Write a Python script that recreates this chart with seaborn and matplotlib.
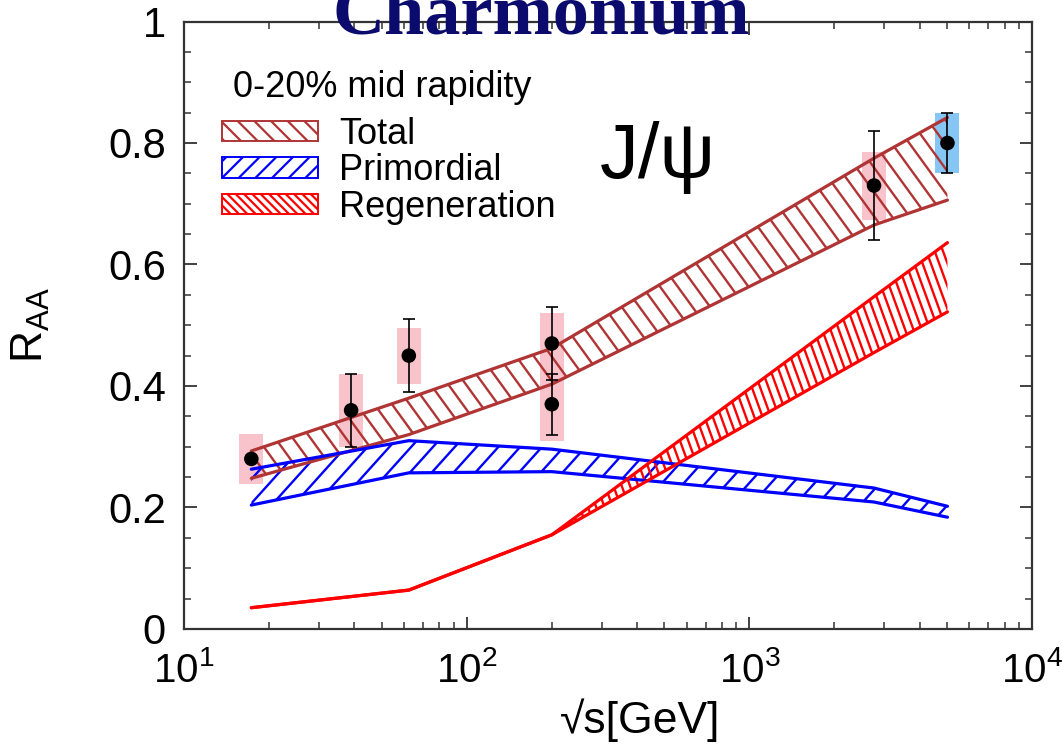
import numpy as np
import pandas as pd
import matplotlib
matplotlib.use("Agg")
import matplotlib.pyplot as plt
import seaborn as sns
from matplotlib.collections import LineCollection
from matplotlib.patches import Patch
from matplotlib.ticker import MultipleLocator, LogLocator, NullFormatter, FuncFormatter

# ---- model bands (0-20% central, mid rapidity) ----
band_sqrt_s = [17.3, 62.4, 200, 2760, 5020]
total_hi = [0.293, 0.380, 0.462, 0.775, 0.842]
total_lo = [0.248, 0.320, 0.403, 0.665, 0.706]
prim_hi = [0.263, 0.310, 0.296, 0.232, 0.202]
prim_lo = [0.204, 0.257, 0.259, 0.209, 0.184]
regen_hi = [0.035, 0.064, 0.155, 0.547, 0.636]
regen_lo = [0.035, 0.064, 0.155, 0.455, 0.522]

# ---- measured J/psi R_AA ----
data_sqrt_s = [17.3, 39, 62.4, 200, 200, 2760, 5020]
data_raa = [0.28, 0.36, 0.45, 0.47, 0.37, 0.73, 0.80]
data_stat = [0.0, 0.06, 0.06, 0.06, 0.05, 0.09, 0.05]
data_sys = [0.041, 0.06, 0.046, 0.05, 0.06, 0.056, 0.05]
data_box_color = ["#f8c3ca"] * 6 + ["#86c6f4"]

legend_title = "0-20% mid rapidity"
legend_labels = ["Total", "Primordial", "Regeneration"]
x_ticks = [10, 100, 1000, 10000]
y_ticks = [0, 0.2, 0.4, 0.6, 0.8, 1.0]

c_total = "#b03434"
c_prim = "#0000ff"
c_regen = "#ff0000"

sns.set_theme(style="ticks")
plt.rcParams["font.family"] = ["Liberation Sans", "DejaVu Sans"]
plt.rcParams["mathtext.fontset"] = "custom"
plt.rcParams["mathtext.rm"] = "Liberation Sans"
plt.rcParams["mathtext.it"] = "Liberation Sans:italic"
plt.rcParams["hatch.linewidth"] = 1.6
for key in ("text.color", "axes.labelcolor", "xtick.labelcolor", "ytick.labelcolor"):
    plt.rcParams[key] = "black"

W_PX, H_PX = 1062, 744
fig = plt.figure(figsize=(W_PX / 100, H_PX / 100), dpi=100)
ax_rect = [0.1733, 0.1546, 0.7985, 0.8165]
ax = fig.add_axes(ax_rect)
ax.set_xscale("log")
ax.set_xlim(10, 1e4)
ax.set_ylim(0, 1)

ax_w = ax_rect[2] * W_PX
ax_h = ax_rect[3] * H_PX


def hatch_band(x, lo, hi, color, angle, spacing, lw=1.7, edge_lw=2.3):
    """Fill a band with parallel hatch lines clipped to it and outline its edges."""
    poly = ax.fill_between(x, lo, hi, facecolor="none", edgecolor="none")
    clip = poly.get_paths()[0]
    th = np.radians(angle)
    d = np.array([np.cos(th), np.sin(th)])
    n = np.array([-np.sin(th), np.cos(th)])
    corners = np.array([[0, 0], [ax_w, 0], [0, ax_h], [ax_w, ax_h]])
    cs = corners @ n
    ts = corners @ d
    segs = []
    for c in np.arange(cs.min(), cs.max() + spacing, spacing):
        p0 = c * n + ts.min() * d
        p1 = c * n + ts.max() * d
        segs.append([(p0[0] / ax_w, p0[1] / ax_h), (p1[0] / ax_w, p1[1] / ax_h)])
    lc = LineCollection(segs, colors=color, linewidths=lw, transform=ax.transAxes, zorder=3)
    lc.set_clip_path(clip, ax.transData)
    ax.add_collection(lc, autolim=False)
    df = pd.DataFrame({"x": x, "lo": lo, "hi": hi})
    for col in ("lo", "hi"):
        sns.lineplot(data=df, x="x", y=col, ax=ax, color=color, lw=edge_lw,
                     sort=False, estimator=None, zorder=3.5)


# systematic boxes
box_f = 1.103
for xv, yv, sv, bc in zip(data_sqrt_s, data_raa, data_sys, data_box_color):
    ax.fill_between([xv / box_f, xv * box_f], yv - sv, yv + sv,
                    color=bc, lw=0, zorder=1)

hatch_band(band_sqrt_s, total_lo, total_hi, c_total, angle=-54, spacing=14.3)
hatch_band(band_sqrt_s, prim_lo, prim_hi, c_prim, angle=48, spacing=16.2)
hatch_band(band_sqrt_s, regen_lo, regen_hi, c_regen, angle=-70, spacing=7.8)

# data with statistical error bars
ax.errorbar(data_sqrt_s, data_raa, yerr=data_stat, fmt="none", ecolor="black",
            elinewidth=1.2, capsize=4, capthick=1.2, zorder=4)
pts = pd.DataFrame({"x": data_sqrt_s, "y": data_raa})
sns.scatterplot(data=pts, x="x", y="y", ax=ax, color="black", s=110,
                edgecolor="none", zorder=5)

# axes styling
ax.set_xticks(x_ticks)
ax.xaxis.set_minor_locator(LogLocator(base=10, subs=np.arange(2, 10), numticks=20))
ax.xaxis.set_minor_formatter(NullFormatter())
ax.xaxis.set_major_formatter(FuncFormatter(lambda v, p: r"$\mathdefault{10^{%d}}$" % round(np.log10(v))))
ax.set_yticks(y_ticks)
ax.yaxis.set_minor_locator(MultipleLocator(0.05))
ax.yaxis.set_major_formatter(FuncFormatter(lambda v, p: "%g" % v))
ax.tick_params(which="both", direction="in", top=True, right=True, color="#333333")
ax.tick_params(which="major", length=9, width=1.3)
ax.tick_params(which="minor", length=5, width=1.1)
ax.tick_params(axis="y", labelsize=30, pad=13)
ax.tick_params(axis="x", labelsize=29, pad=16)
for sp in ax.spines.values():
    sp.set_linewidth(1.6)
    sp.set_color("#333333")

ax.set_xlabel("\u221as[GeV]", fontsize=32)
ax.xaxis.set_label_coords((640 - 184) / 848, -0.115)
ax.set_ylabel(r"$\mathrm{R}_{\mathrm{AA}}$", fontsize=32)
ax.yaxis.set_label_coords(-0.156, 0.5)

ax.text(0.4906, 0.742, "J/\u03c8", transform=ax.transAxes, fontsize=56,
        ha="left", va="baseline", color="black")

ax.text((233 - 184) / 848, (629 - 88) / 607.5, legend_title, transform=ax.transAxes,
        fontsize=26, ha="left", va="center")
handles = [
    Patch(facecolor="none", edgecolor=c_total, hatch="\\\\", lw=1.4),
    Patch(facecolor="none", edgecolor=c_prim, hatch="//", lw=1.4),
    Patch(facecolor="none", edgecolor=c_regen, hatch="\\\\\\\\", lw=1.4),
]
leg = ax.legend(handles, legend_labels, loc="upper left",
                bbox_to_anchor=((222 - 184) / 848, (629 - 117) / 607.5), frameon=False,
                fontsize=26, handlelength=2.65, handleheight=0.5,
                handletextpad=0.6, labelspacing=0.04, borderpad=0, borderaxespad=0)

fig.text(0.51, 0.955, "Charmonium", ha="center", va="baseline", fontsize=52,
         fontweight="bold", family="Liberation Serif", color="#0b0b6e")

fig.savefig("out.png", dpi=100)
